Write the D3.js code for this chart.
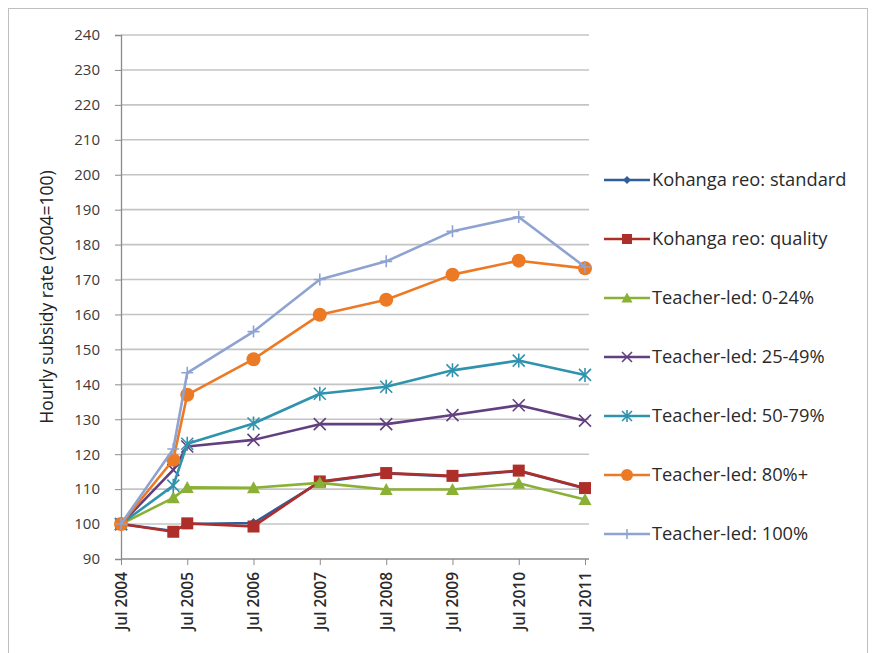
<!DOCTYPE html>
<html><head><meta charset="utf-8">
<script src="https://cdn.jsdelivr.net/npm/d3@7"></script>
<style>
html,body{margin:0;padding:0;background:#fff;}
text{font-family:"Open Sans",Lato,sans-serif;}
</style></head>
<body><svg id="c" width="876" height="653"></svg>
<script>
const dates = ["2004-07-01","2005-04-15","2005-07-01","2006-07-01","2007-07-01","2008-07-01","2009-07-01","2010-07-01","2011-07-01"];
const kohangaStandard = [100, 98, 100, 100.3, 112, 114.5, 113.6, 115.2, 110.2];
const kohangaQuality  = [100, 97.8, 100.2, 99.3, 112.2, 114.6, 113.8, 115.3, 110.3];
const teacher0_24     = [100, 107.5, 110.5, 110.4, 111.8, 109.9, 109.9, 111.7, 107.0];
const teacher25_49    = [100, 115.5, 122.2, 124.1, 128.6, 128.6, 131.2, 134.0, 129.6];
const teacher50_79    = [100, 111.0, 123.0, 128.8, 137.3, 139.3, 144.0, 146.8, 142.7];
const teacher80plus   = [100, 118.4, 137.0, 147.2, 159.9, 164.2, 171.4, 175.4, 173.2];
const teacher100      = [100, 121.5, 143.3, 155.1, 170.0, 175.2, 183.8, 187.9, 173.6];
const seriesNames = ["Kohanga reo: standard","Kohanga reo: quality","Teacher-led: 0-24%","Teacher-led: 25-49%","Teacher-led: 50-79%","Teacher-led: 80%+","Teacher-led: 100%"];
const xTickDates = ["2004-07-01","2005-07-01","2006-07-01","2007-07-01","2008-07-01","2009-07-01","2010-07-01","2011-07-01"];
const yTicks = [90,100,110,120,130,140,150,160,170,180,190,200,210,220,230,240];
const yTitle = "Hourly subsidy rate (2004=100)";

const seriesValues = [kohangaStandard,kohangaQuality,teacher0_24,teacher25_49,teacher50_79,teacher80plus,teacher100];
const colors = ["#2E5E9C","#AE2E2A","#8AB035","#62407F","#2F93AE","#EC7A25","#8FA3D2"];
const markers = ["diamond","square","triangle","x","star","circle","plus"];
const FONT = "'Open Sans',Lato,sans-serif";

const parse = d3.timeParse("%Y-%m-%d");
const svg = d3.select("#c");
svg.append("rect").attr("x",8.5).attr("y",8.5).attr("width",859).attr("height",660)
  .attr("fill","none").attr("stroke","#BFBFBF").attr("stroke-width",1);

const x = d3.scaleTime().domain([parse(xTickDates[0]), parse(xTickDates[xTickDates.length-1])]).range([121,585]);
const y = d3.scaleLinear().domain([90,240]).range([559,35]);
const gridRight = 589;

// gridlines
svg.append("g").selectAll("line").data(yTicks.filter(v=>v>90)).join("line")
  .attr("x1",x.range()[0]).attr("x2",gridRight)
  .attr("y1",d=>y(d)).attr("y2",d=>y(d))
  .attr("stroke","#C4C4C4").attr("stroke-width",1.6);

// y axis
const yAxis = svg.append("g").attr("transform",`translate(${x.range()[0]},0)`)
  .call(d3.axisLeft(y).tickValues(yTicks).tickSize(6).tickPadding(15));
yAxis.select(".domain").attr("stroke","#8A8A8A").attr("stroke-width",1.3);
yAxis.selectAll(".tick line").attr("stroke","#8A8A8A");
yAxis.selectAll("text").attr("font-size","15px").attr("fill","#3A3A3A")
  .style("font-family",FONT);

// x axis
const xAxis = svg.append("g").attr("transform",`translate(0,${y(90)})`)
  .call(d3.axisBottom(x).tickValues(xTickDates.map(parse)).tickSize(6).tickSizeOuter(0)
    .tickFormat(d3.timeFormat("Jul %Y")));
xAxis.select(".domain").attr("stroke","#8A8A8A").attr("stroke-width",1.3).attr("d",`M${x.range()[0]},0H${gridRight}`);
xAxis.selectAll(".tick line").attr("stroke","#8A8A8A");
xAxis.selectAll("text").attr("font-size","15.5px").attr("fill","#2A2A2A").attr("font-weight","600")
  .attr("transform","rotate(-90)").attr("text-anchor","end").attr("dx","-13").attr("dy","0.35em").attr("y",0)
  .style("font-family",FONT);

// y title
svg.append("text").attr("transform",`translate(47,${(y(90)+y(240))/2}) rotate(-90)`)
  .attr("text-anchor","middle").attr("dy","0.35em").attr("font-size","17.5px").attr("fill","#222").text(yTitle);

function drawMarker(g, type, color, s){
  const sw = 1.6;
  if(type==="diamond") g.append("path").attr("d",`M0,${-s}L${s},0L0,${s}L${-s},0Z`).attr("fill",color);
  else if(type==="square") g.append("rect").attr("x",-s).attr("y",-s).attr("width",2*s).attr("height",2*s).attr("fill",color);
  else if(type==="triangle") g.append("path").attr("d",`M0,${-s-1}L${s+1},${s}L${-s-1},${s}Z`).attr("fill",color);
  else if(type==="circle") g.append("circle").attr("r",s+0.5).attr("fill",color);
  else if(type==="x") g.append("path").attr("d",`M${-s},${-s}L${s},${s}M${-s},${s}L${s},${-s}`).attr("stroke",color).attr("stroke-width",sw);
  else if(type==="star") g.append("path").attr("d",`M${-s},${-s}L${s},${s}M${-s},${s}L${s},${-s}M0,${-s-1}V${s+1}`).attr("stroke",color).attr("stroke-width",sw);
  else if(type==="plus") g.append("path").attr("d",`M${-s},0H${s}M0,${-s}V${s}`).attr("stroke",color).attr("stroke-width",sw);
}
const markerSize = [5,6,5.5,6,6,6.5,6];

const line = d3.line().x(d=>x(d.date)).y(d=>y(d.v));
seriesValues.forEach((vals,i)=>{
  const pts = vals.map((v,j)=>({date:parse(dates[j]),v}));
  const g = svg.append("g");
  g.append("path").datum(pts).attr("d",line).attr("fill","none")
    .attr("stroke",colors[i]).attr("stroke-width",2.6).attr("stroke-linejoin","round");
  pts.forEach(p=>{
    const m = g.append("g").attr("transform",`translate(${x(p.date)},${y(p.v)})`);
    drawMarker(m, markers[i], colors[i], markerSize[i]);
  });
});

// legend
const lg = svg.append("g");
seriesNames.forEach((name,i)=>{
  const yy = 180 + i*59;
  const g = lg.append("g").attr("transform",`translate(604,${yy})`);
  g.append("line").attr("x1",0).attr("x2",46).attr("y1",0).attr("y2",0).attr("stroke",colors[i]).attr("stroke-width",2.6);
  const m = g.append("g").attr("transform","translate(23,0)");
  drawMarker(m, markers[i], colors[i], markerSize[i]-1);
  g.append("text").attr("x",48).attr("y",0).attr("dy","0.35em").attr("font-size","18.3px").attr("fill","#2A2A2A").text(name);
});
</script></body></html>
